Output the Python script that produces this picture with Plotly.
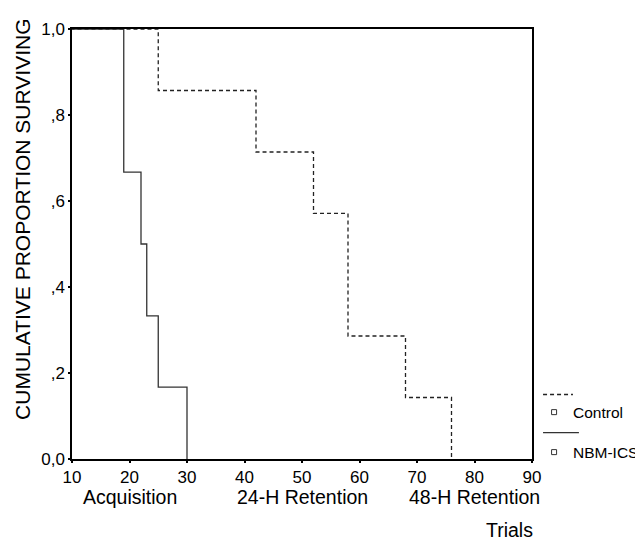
import plotly.graph_objects as go

# Kaplan-Meier step data (time in trials, cumulative proportion surviving)
control_times = [0, 25, 42, 52, 58, 68, 76]
control_surv = [1.0, 0.857, 0.714, 0.571, 0.286, 0.143, 0.0]

nbm_times = [0, 19, 22, 23, 25, 30]
nbm_surv = [1.0, 0.667, 0.5, 0.333, 0.167, 0.0]

x_ticks = [10, 20, 30, 40, 50, 60, 70, 80, 90]
y_ticks = [0.0, 0.2, 0.4, 0.6, 0.8, 1.0]
y_ticktext = ["0,0", ",2", ",4", ",6", ",8", "1,0"]

phase_labels = ["Acquisition", "24-H Retention", "48-H Retention"]
phase_x = [20, 50, 80]

series_names = ["Control", "NBM-ICS"]

FONT = "Liberation Sans, Arial, sans-serif"
LINE_COLOR = "#222222"

fig = go.Figure()
fig.add_trace(go.Scatter(x=control_times, y=control_surv, mode="lines",
                         line=dict(shape="hv", color=LINE_COLOR, width=1.3, dash="4px,3px"),
                         name=series_names[0], showlegend=False, hoverinfo="skip"))
fig.add_trace(go.Scatter(x=nbm_times, y=nbm_surv, mode="lines",
                         line=dict(shape="hv", color="#333333", width=1.3),
                         name=series_names[1], showlegend=False, hoverinfo="skip"))

fig.update_layout(
    width=635, height=533,
    margin=dict(l=64, r=111, t=12, b=82),
    paper_bgcolor="white", plot_bgcolor="white",
    font=dict(family=FONT, color="black"),
    showlegend=False,
)
fig.update_xaxes(range=[10, 90], tickvals=x_ticks, ticktext=[str(v) for v in x_ticks],
                 showgrid=False, zeroline=False, showline=True, mirror=True,
                 linecolor="black", linewidth=1.5, ticks="outside", ticklen=2,
                 tickwidth=2, tickcolor="black", tickfont=dict(size=17, family=FONT))
fig.update_yaxes(range=[0, 1], tickvals=y_ticks, ticktext=y_ticktext,
                 showgrid=False, zeroline=False, showline=True, mirror=True,
                 linecolor="black", linewidth=1.5, ticks="outside", ticklen=2,
                 tickwidth=2, tickcolor="black", tickfont=dict(size=17, family=FONT))

ann = []
for lab, px in zip(phase_labels, phase_x):
    ann.append(dict(text=lab, x=px, y=-0.089, xref="x", yref="paper",
                    xanchor="center", yanchor="middle", showarrow=False,
                    font=dict(size=19.5, family=FONT)))
ann.append(dict(text="Trials", x=1.0065, y=-0.166, xref="paper", yref="paper",
                xanchor="right", yanchor="middle", showarrow=False,
                font=dict(size=19.5, family=FONT)))
ann.append(dict(text="CUMULATIVE PROPORTION SURVIVING", x=-0.1065, y=0.556,
                xref="paper", yref="paper", textangle=-90,
                xanchor="center", yanchor="middle", showarrow=False,
                font=dict(size=21, family=FONT)))
# legend texts
ann.append(dict(text=series_names[0], x=1.085, y=0.109, xref="paper", yref="paper",
                xanchor="left", yanchor="middle", showarrow=False,
                font=dict(size=15.5, family=FONT)))
ann.append(dict(text=series_names[1], x=1.085, y=0.016, xref="paper", yref="paper",
                xanchor="left", yanchor="middle", showarrow=False,
                font=dict(size=15.5, family=FONT)))
fig.update_layout(annotations=ann)

shapes = [
    dict(type="line", xref="paper", yref="paper", x0=1.024, x1=1.089, y0=0.150, y1=0.150,
         line=dict(color=LINE_COLOR, width=1.3, dash="4px,3px")),
    dict(type="line", xref="paper", yref="paper", x0=1.024, x1=1.102, y0=0.0615, y1=0.0615,
         line=dict(color="#333333", width=1.3)),
]
for yy in [0.109, 0.016]:
    shapes.append(dict(type="rect", xref="paper", yref="paper",
                       xsizemode="pixel", ysizemode="pixel",
                       xanchor=1.048, yanchor=yy, x0=-2.5, x1=2.5, y0=-2.5, y1=2.5,
                       line=dict(color="#333333", width=1), fillcolor="white"))
fig.update_layout(shapes=shapes)

fig.write_html("out.html")
